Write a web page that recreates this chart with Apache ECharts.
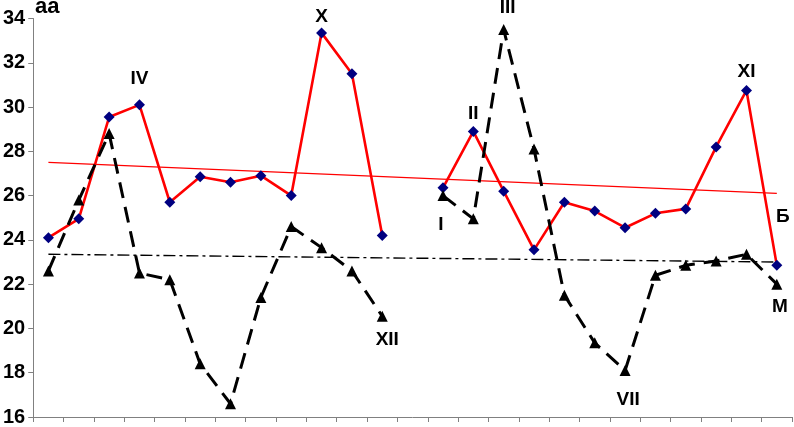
<!DOCTYPE html>
<html>
<head>
<meta charset="utf-8">
<script src="https://cdn.jsdelivr.net/npm/echarts@6/dist/echarts.min.js"></script>
<style>
html,body{margin:0;padding:0;background:#fff;}
#chart{width:794px;height:427px;}
</style>
</head>
<body>
<div id="chart"></div>
<script>
// ---- data ----
var categories = ['1','2','3','4','5','6','7','8','9','10','11','12','13','14','15','16','17','18','19','20','21','22','23','24','25'];
var redValues = [24.1, 24.95, 29.55, 30.1, 25.7, 26.85, 26.6, 26.9, 26.0, 33.35, 31.5, 24.2, null,
                 26.35, 28.9, 26.2, 23.55, 25.7, 25.3, 24.55, 25.2, 25.4, 28.2, 30.75, 22.85];
var blackValues = [22.6, 25.8, 28.8, 22.5, 22.2, 18.4, 16.6, 21.4, 24.6, 23.65, 22.6, 20.55, null,
                   26.0, 24.95, 33.5, 28.1, 21.5, 19.35, 18.1, 22.4, 22.85, 23.05, 23.35, 22.0];
var redTrendEnds = [27.5, 26.1];
var blackTrendEnds = [23.35, 23.0];
var redLabels = {3:'IV', 9:'X', 14:'II', 23:'XI', 24:'Б'};
var blackLabels = {15:'III', 13:'I', 11:'XII', 19:'VII', 24:'M'};
var yTicks = {min:16, max:34, interval:2};
var yTitle = 'aa';

// ---- label styles ----
var lblFont = {fontFamily:'Liberation Sans, Arial, sans-serif', fontWeight:'bold', fontSize:19, color:'#000'};
var redLabelStyle = {
  3: {position:'top', offset:[0,-6]},
  9: {position:'top', offset:[0,4]},
  14:{position:'top', offset:[0,2]},
  23:{position:'top', offset:[0,1]},
  24:{position:'top', offset:[6,-29]}
};
var blackLabelStyle = {
  15:{position:'top', offset:[4,-2]},
  13:{position:'bottom', offset:[-2,9]},
  11:{position:'bottom', offset:[5,3]},
  19:{position:'bottom', offset:[3,9]},
  24:{position:'bottom', offset:[3,3]}
};

function withLabels(vals, names, styles){
  return vals.map(function(v,i){
    if (names[i] !== undefined && v !== null){
      var s = styles[i];
      return {value:v, label:Object.assign({show:true, formatter:names[i], position:s.position, offset:s.offset, distance:5}, lblFont)};
    }
    return v;
  });
}
function trendData(ends, n){
  var arr = new Array(n).fill(null);
  arr[0] = ends[0];
  arr[n-1] = ends[1];
  return arr;
}

var chart = echarts.init(document.getElementById('chart'), null, {renderer:'canvas'});
var option = {
  animation:false,
  backgroundColor:'#fff',
  grid:{left:32, right:2, top:18.5, bottom:8, containLabel:false},
  graphic:[{
    type:'text', left:35, top:-4,
    style:{text:yTitle, fontFamily:'Liberation Sans, Arial, sans-serif', fontWeight:'bold', fontSize:22, fill:'#000'}
  }],
  xAxis:{
    type:'category', data:categories, boundaryGap:true,
    axisLine:{lineStyle:{color:'#808080', width:1}},
    axisTick:{show:true, interval:0, length:5, inside:false, lineStyle:{color:'#808080'}},
    axisLabel:{show:false},
    splitLine:{show:false}
  },
  yAxis:{
    type:'value', min:yTicks.min, max:yTicks.max, interval:yTicks.interval,
    axisLine:{show:true, lineStyle:{color:'#808080', width:1}},
    axisTick:{show:true, length:5, lineStyle:{color:'#808080'}},
    axisLabel:{margin:8, fontFamily:'Liberation Sans, Arial, sans-serif', fontWeight:'bold', fontSize:20, color:'#000'},
    splitLine:{show:false}
  },
  series:[
    {
      type:'line', data:trendData(redTrendEnds, categories.length), connectNulls:true,
      symbol:'none', lineStyle:{color:'#ff0000', width:1.2}, z:1, silent:true
    },
    {
      type:'line', data:trendData(blackTrendEnds, categories.length), connectNulls:true,
      symbol:'none', lineStyle:{color:'#000', width:1.4, type:[12,4,3,4]}, z:1, silent:true
    },
    {
      type:'line', data:withLabels(redValues, redLabels, redLabelStyle), connectNulls:false,
      symbol:'diamond', symbolSize:11, itemStyle:{color:'#000080'},
      lineStyle:{color:'#ff0000', width:2.6}, z:2
    },
    {
      type:'line', data:withLabels(blackValues, blackLabels, blackLabelStyle), connectNulls:false,
      symbol:'triangle', symbolSize:11, itemStyle:{color:'#000'},
      lineStyle:{color:'#000', width:3, type:[16,9]}, z:3
    }
  ]
};
chart.setOption(option);
</script>
</body>
</html>
